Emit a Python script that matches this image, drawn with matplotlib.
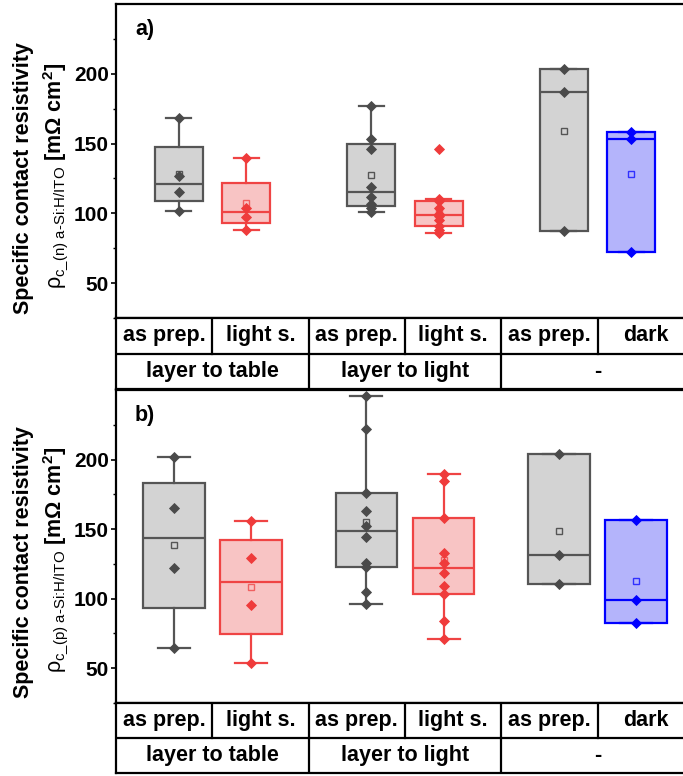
import matplotlib
matplotlib.use('Agg')
from matplotlib import pyplot as plt
from matplotlib.ticker import FixedLocator
import numpy as np

plt.rcParams['font.family'] = ['Liberation Sans', 'DejaVu Sans']
plt.rcParams['mathtext.fontset'] = 'custom'
plt.rcParams['mathtext.rm'] = 'Liberation Sans'
plt.rcParams['mathtext.it'] = 'Liberation Sans:italic'
plt.rcParams['mathtext.bf'] = 'Liberation Sans:bold'
plt.rcParams['mathtext.default'] = 'regular'

# table text under each panel
conditions = ['as prep.', 'light s.', 'as prep.', 'light s.', 'as prep.', 'dark']
groups = ['layer to table', 'layer to light', '-']

# contact resistivity of the n-side contact [mOhm cm2], one list per sample set
rho_n = [
    [102, 115, 126.5, 168],
    [88, 97.5, 104, 139.5],
    [101, 104, 107, 112, 119, 146, 153, 177],
    [86, 88, 91, 95, 98, 99.5, 104, 108.5, 110.5, 146],
    [87.5, 187, 203.5],
    [72.5, 153, 158],
]
# same for the p-side contact
rho_p = [
    [64.5, 122, 165, 201.5],
    [54, 95.5, 129, 156],
    [96.5, 104.5, 123, 125.5, 144.5, 152.5, 163, 176, 222, 246],
    [71, 84, 103, 109, 118.5, 125.5, 132.5, 158, 184.5, 189.5],
    [110.5, 131.5, 204],
    [82.5, 99, 156.5],
]

yticks = [50, 100, 150, 200]
ytick_labels = ['50', '100', '150', '200']

# edge, fill, points, mean square
gray = ('#555555', '#d3d3d3', '#4a4a4a', '#555555')
red = ('#ef4444', '#f8c4c4', '#ef3b3b', '#f06060')
blue = ('#0000ff', '#b4b4fb', '#0000ff', '#3030ff')
box_colors = [gray, red, gray, red, gray, blue]

W, H = 683, 776


def px_rect(x0, y0, x1, y1):
    return [x0 / W, 1 - y1 / H, (x1 - x0) / W, (y1 - y0) / H]


def hinge_stats(vals):
    v = np.sort(np.asarray(vals, dtype=float))
    n = len(v)
    q1 = np.median(v[:n // 2])
    q3 = np.median(v[(n + 1) // 2:])
    iqr = q3 - q1
    return dict(med=np.median(v), q1=q1, q3=q3,
                whislo=v[v >= q1 - 1.5 * iqr].min(),
                whishi=v[v <= q3 + 1.5 * iqr].max(),
                mean=v.mean(), fliers=[])


def draw_panel(ax, data, offset, width, capw):
    pos = [1 - offset, 1 + offset, 2 - offset, 2 + offset, 3 - offset, 3 + offset]
    for vals, p, (ec, fc, pc, mc) in zip(data, pos, box_colors):
        st = hinge_stats(vals)
        ax.bxp([st], positions=[p], widths=[width], capwidths=[capw],
               patch_artist=True, showfliers=False, showmeans=False,
               boxprops=dict(facecolor=fc, edgecolor=ec, linewidth=1.6),
               medianprops=dict(color=ec, linewidth=1.6),
               whiskerprops=dict(color=ec, linewidth=1.6),
               capprops=dict(color=ec, linewidth=1.6), manage_ticks=False)
        ax.plot([p], [st['mean']], 's', ms=5, mfc='none', mec=mc, mew=1.0, zorder=4)
        ax.plot([p] * len(vals), vals, 'D', ms=4.6, color=pc, mec=pc, mew=0.6,
                zorder=5, clip_on=False)
    ax.set_xlim(0.5, 3.5)
    ax.set_ylim(25, 250)
    ax.set_xticks([])
    ax.set_yticks(yticks, labels=ytick_labels, fontsize=15, fontweight='bold')
    ax.yaxis.set_minor_locator(FixedLocator([25, 75, 125, 175, 225]))
    ax.tick_params(axis='y', which='major', direction='out', length=3.5, width=1.2, pad=1.5)
    ax.tick_params(axis='y', which='minor', direction='out', length=2, width=1.0)
    for s in ax.spines.values():
        s.set_linewidth(1.6)


def draw_table(ax):
    ax.set_xlim(0.5, 3.5)
    ax.set_ylim(0, 2)
    ax.set_xticks([])
    ax.set_yticks([])
    for s in ax.spines.values():
        s.set_linewidth(1.6)
    ax.axhline(1, color='black', lw=1.6)
    for x in [1.0, 1.5, 2.0, 2.5, 3.0]:
        ax.plot([x, x], [1, 2], color='black', lw=1.6)
    for x in [1.5, 2.5]:
        ax.plot([x, x], [0, 1], color='black', lw=1.6)
    for i, c in enumerate(conditions):
        ax.text(0.75 + 0.5 * i, 1.5, c, ha='center', va='center',
                fontsize=15.5, fontweight='bold')
    for i, g in enumerate(groups):
        ax.text(1 + i, 0.5, g, ha='center', va='center',
                fontsize=15.5, fontweight='bold')


fig = plt.figure(figsize=(W / 100, H / 100), dpi=100)

ax_a = fig.add_axes(px_rect(116, 4, 694, 318))
tab_a = fig.add_axes(px_rect(116, 318, 694, 389))
ax_b = fig.add_axes(px_rect(116, 390, 694, 703))
tab_b = fig.add_axes(px_rect(116, 703, 694, 773))

draw_panel(ax_a, rho_n, 0.175, 0.25, 0.13)
draw_panel(ax_b, rho_p, 0.2, 0.32, 0.166)
draw_table(tab_a)
draw_table(tab_b)

ax_a.text(0.033, 0.92, 'a)', transform=ax_a.transAxes, fontsize=15.5,
          fontweight='bold', va='center')
ax_b.text(0.033, 0.92, 'b)', transform=ax_b.transAxes, fontsize=15.5,
          fontweight='bold', va='center')

# two-line y labels
for yc, sub in [(178, 'c\\_(n)'), (562, 'c\\_(p)')]:
    fig.text(24 / W, 1 - yc / H, 'Specific contact resistivity', rotation=90,
             ha='center', va='center', fontsize=15.5, fontweight='bold')
    fig.text(56 / W, 1 - (yc - 2) / H,
             r'$\rho_{%s\ \text{a-Si:H/ITO}}$ $\mathbf{[m\Omega\ cm^{2}]}$' % sub,
             rotation=90, ha='center', va='center', fontsize=15.5)

fig.savefig('out.png', dpi=100)
